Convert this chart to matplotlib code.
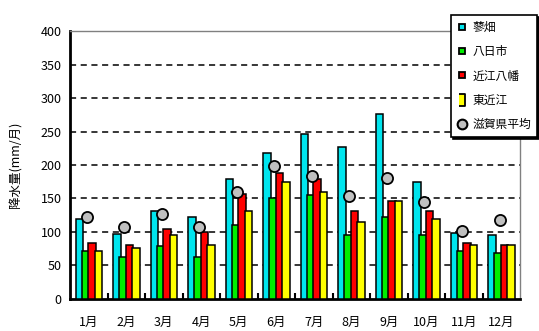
import numpy as np
import matplotlib
matplotlib.use('Agg')
import matplotlib.pyplot as plt
from matplotlib.lines import Line2D

plt.rcParams['font.family'] = ['Noto Sans CJK JP', 'DejaVu Sans']

months = ['1月','2月','3月','4月','5月','6月','7月','8月','9月','10月','11月','12月']
names = ['蓼畑','八日市','近江八幡','東近江']
colors = ['#00e5ee','#00ee00','#ff0000','#ffff00']

tadehata = [120, 97, 132, 123, 179, 218, 247, 227, 276, 175, 99, 95]
youkaichi = [72, 63, 79, 63, 110, 150, 155, 95, 123, 95, 72, 68]
omihachiman = [84, 80, 104, 100, 156, 188, 179, 132, 146, 131, 84, 80]
higashiomi = [72, 76, 96, 80, 132, 175, 159, 115, 146, 120, 80, 80]
shiga_avg = [122, 108, 127, 108, 159, 199, 183, 154, 180, 145, 102, 118]

series = [tadehata, youkaichi, omihachiman, higashiomi]

fig = plt.figure(figsize=(5.39, 3.31), dpi=100)
ax = fig.add_axes([0.130, 0.097, 0.835, 0.809])

x = np.arange(len(months))
step = 0.17
width = 0.20
for k, (vals, c) in enumerate(zip(series, colors)):
    ax.bar(x + (k - 1.5) * step, vals, width, color=c, edgecolor='black',
           linewidth=1.1, zorder=3 + k)

ax.plot(x - 0.05, shiga_avg, 'o', ms=8, mfc='#c0c0c0', mec='black', mew=1.3, zorder=10)

ax.set_xlim(-0.5, 11.5)
ax.set_ylim(0, 400)
ax.set_yticks(np.arange(0, 401, 50))
for yv in range(50, 400, 50):
    ax.axhline(yv, color='black', lw=1.1, ls=(0, (4, 3)), zorder=1)

ax.set_xticks(x)
ax.set_xticklabels(months, fontsize=9)
ax.set_xticks(np.arange(0.5, 11.5, 1), minor=True)
ax.tick_params(axis='x', which='major', length=0, pad=12)
ax.tick_params(axis='x', which='minor', direction='in', length=4, width=1.5)
ax.tick_params(axis='y', length=0, pad=6, labelsize=9)
ax.set_ylabel('降水量(mm/月)', fontsize=9)
ax.yaxis.set_label_coords(-0.105, 0.5)

for s in ['left', 'bottom']:
    ax.spines[s].set_linewidth(2)
    ax.spines[s].set_color('black')
for s in ['top', 'right']:
    ax.spines[s].set_linewidth(1)
    ax.spines[s].set_color('#808080')

handles = [Line2D([], [], ls='none', marker='s', ms=5, mfc=c, mec='black', mew=1.3)
           for c in colors[:3]]
handles.append(Line2D([], [], ls='none', marker=[(-0.5, -1), (0.5, -1), (0.5, 1), (-0.5, 1)],
                      ms=8, mfc=colors[3], mec='black', mew=1.3))
handles.append(Line2D([], [], ls='none', marker='o', ms=7, mfc='#c0c0c0', mec='black', mew=1.5))
leg = ax.legend(handles, names + ['滋賀県平均'], loc='upper left',
                bbox_to_anchor=(0.826, 0.972), bbox_transform=fig.transFigure,
                fontsize=8.5, frameon=True, fancybox=False, labelspacing=0.95,
                handlelength=0.8, handletextpad=0.5, borderpad=0.5,
                shadow={'color': 'black', 'alpha': 1, 'ox': 1.3, 'oy': -1.3})
leg.get_frame().set_edgecolor('black')
leg.get_frame().set_linewidth(1.2)
leg.set_zorder(20)

fig.savefig('out.png', dpi=100)
